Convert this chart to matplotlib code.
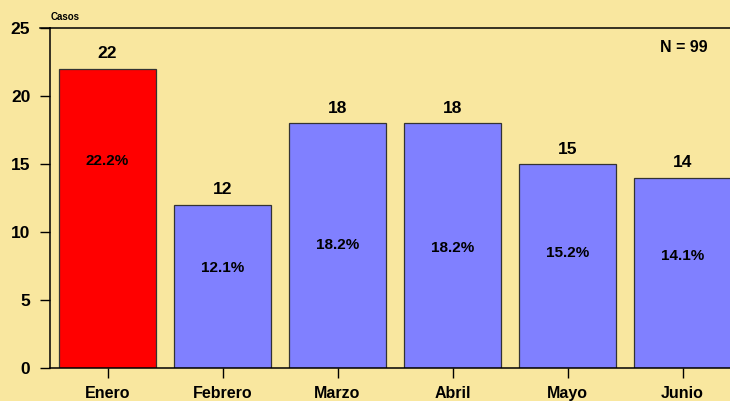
import numpy as np
import matplotlib.pyplot as plt

plt.rcParams['font.family'] = ['Liberation Sans', 'DejaVu Sans']
plt.rcParams['font.weight'] = 'bold'

# data
meses = ['Enero', 'Febrero', 'Marzo', 'Abril', 'Mayo', 'Junio']
casos = [22, 12, 18, 18, 15, 14]
porcentajes = ['22.2%', '12.1%', '18.2%', '18.2%', '15.2%', '14.1%']
total = 99

# height (data units) where each percent label sits inside its bar
pct_y = [15.25, 7.35, 9.05, 8.8, 8.45, 8.25]

bg = '#F9E79F'
colores = ['#FF0000'] + ['#8080FF'] * (len(casos) - 1)

fig = plt.figure(figsize=(7.3, 4.01), dpi=100, facecolor=bg)
# axes runs a bit past the right edge, like the original
ax = fig.add_axes([50 / 730, 33 / 401, 690 / 730, 340 / 401], facecolor=bg)

x = np.arange(len(casos))
ax.bar(x, casos, width=0.85, color=colores, edgecolor='#333333', linewidth=0.9)

for xi, c in zip(x, casos):
    ax.text(xi, c + 1.1, str(c), ha='center', va='center',
            fontsize=12.5, fontweight='bold')
for xi, p, py in zip(x, porcentajes, pct_y):
    ax.text(xi, py, p, ha='center', va='center', fontsize=11, fontweight='bold')

ax.set_xlim(-0.5, 5.5)
ax.set_ylim(0, 25)
ax.set_yticks([0, 5, 10, 15, 20, 25])
ax.set_xticks(x)
ax.set_xticklabels(meses)
ax.tick_params(axis='y', length=7.2, width=1, pad=7, labelsize=12.5)
ax.tick_params(axis='x', length=7.2, width=1, pad=6, labelsize=11.5)
for lab in ax.get_xticklabels() + ax.get_yticklabels():
    lab.set_fontweight('bold')

for s in ['left', 'bottom', 'top']:
    ax.spines[s].set_linewidth(1.1)
ax.spines['right'].set_visible(False)

# extend top line to the left like the ticks
ax.plot([-0.5 - 10 / 115, -0.5], [25, 25], color='black', lw=1.1, clip_on=False)

fig.text(51 / 730, 1 - 17 / 401, 'Casos', fontsize=7, fontweight='bold', va='center')
fig.text(708 / 730, 1 - 48 / 401, 'N = ' + str(total), fontsize=11.5, fontweight='bold',
         ha='right', va='center')

fig.savefig('out.png', dpi=100, facecolor=bg)
